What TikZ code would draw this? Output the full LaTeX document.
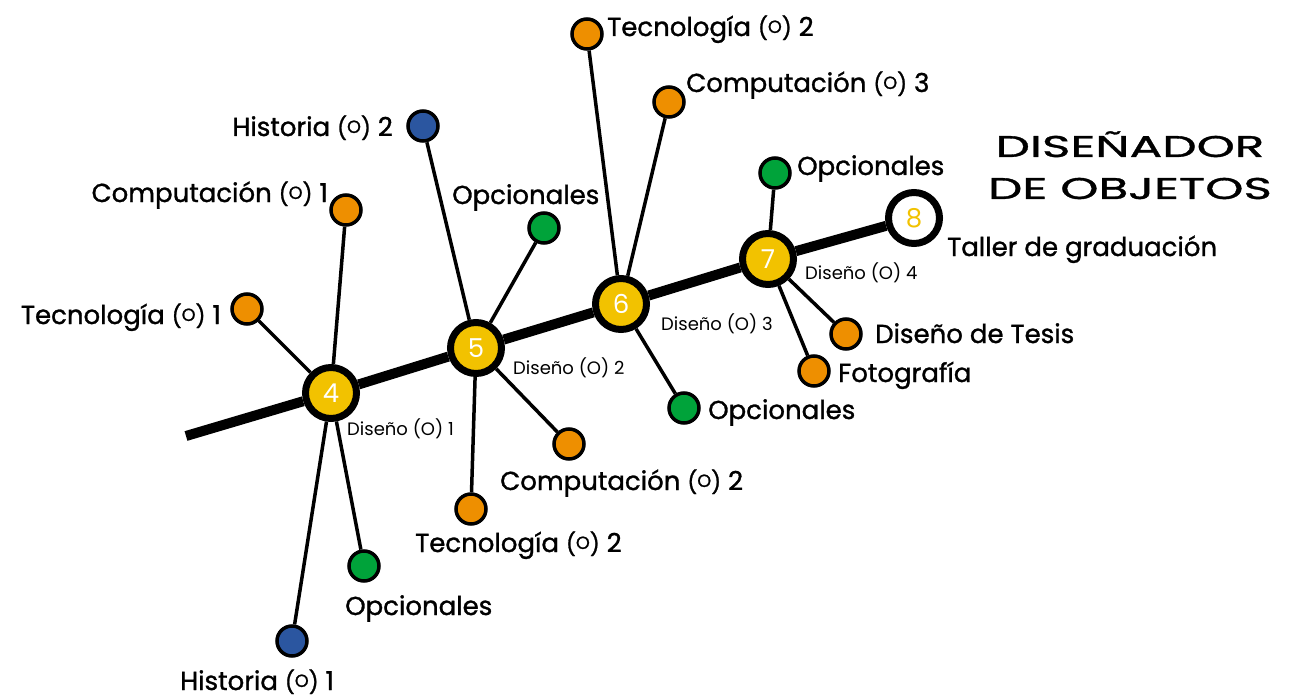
\documentclass[tikz,border=0pt]{standalone}
\usepackage{fontspec}
\setmainfont{Poppins}
\newfontfamily\gruesa[FakeBold=1.2]{Poppins}
\newfontfamily\titlefont[FakeStretch=1.62, FakeBold=1.1]{Poppins}
\usepackage{graphicx}

\definecolor{amarillo}{HTML}{F2C200}
\definecolor{naranja}{HTML}{EE8F00}
\definecolor{verde}{HTML}{00A33A}
\definecolor{azul}{HTML}{2B56A0}

\tikzstyle{semestre} = [circle, draw=black, line width=7pt, fill=amarillo, minimum size=51pt, inner sep=0pt, text=white, font=\fontsize{26}{26}\selectfont]
\tikzstyle{materia} = [circle, draw=black, line width=3.5pt, minimum size=30pt, inner sep=0pt]
\tikzstyle{etiq} = [inner sep=0pt, font=\gruesa\fontsize{26}{26}\selectfont]
\tikzstyle{etiqchica} = [inner sep=0pt, font=\fontsize{18}{18}\selectfont]
\tikzstyle{espina} = [line width=10pt]
\tikzstyle{rama} = [line width=3.5pt]

% optativa: (O) con la O chica y subida
\newcommand{\opc}{{\fontsize{22}{22}\selectfont(\raisebox{0.14em}{\scalebox{0.8}{O}})}}

\begin{document}
\begin{tikzpicture}[x=1pt, y=-1pt]
      \useasboundingbox (0,0) rectangle (1291,698);
      % semestres
      \node[semestre] (s4) at (331,393) {4};
      \node[semestre] (s5) at (476,348) {5};
      \node[semestre] (s6) at (621,304) {6};
      \node[semestre] (s7) at (768,259) {7};
      \node[semestre, fill=white, text=amarillo] (s8) at (914,218) {8};
      \coordinate (inicio) at (186,436);
      % materias
      \node[materia, fill=naranja] (comp1) at (346,210) {};
      \node[materia, fill=naranja] (tec1) at (247,309) {};
      \node[materia, fill=azul] (hist1) at (292,641) {};
      \node[materia, fill=verde] (opc1) at (364,566) {};
      \node[materia, fill=azul] (hist2) at (423,126) {};
      \node[materia, fill=verde] (opc2) at (544,228) {};
      \node[materia, fill=naranja] (comp2) at (569,444) {};
      \node[materia, fill=naranja] (tec2b) at (471,509) {};
      \node[materia, fill=naranja] (tec2) at (587,34) {};
      \node[materia, fill=naranja] (comp3) at (669,102) {};
      \node[materia, fill=verde] (opc3) at (684,408) {};
      \node[materia, fill=verde] (opc4) at (775,173) {};
      \node[materia, fill=naranja] (tesis) at (846,334) {};
      \node[materia, fill=naranja] (foto) at (814,371) {};
      \draw[espina] (inicio) -- (s4) -- (s5) -- (s6) -- (s7) -- (s8);
      \draw[rama] (s4) -- (comp1);
      \draw[rama] (s4) -- (tec1);
      \draw[rama] (s4) -- (hist1);
      \draw[rama] (s4) -- (opc1);
      \draw[rama] (s5) -- (hist2);
      \draw[rama] (s5) -- (opc2);
      \draw[rama] (s5) -- (comp2);
      \draw[rama] (s5) -- (tec2b);
      \draw[rama] (s6) -- (tec2);
      \draw[rama] (s6) -- (comp3);
      \draw[rama] (s6) -- (opc3);
      \draw[rama] (s7) -- (opc4);
      \draw[rama] (s7) -- (tesis);
      \draw[rama] (s7) -- (foto);
      % etiquetas
      \node[etiq, anchor=base east] (lcomp1) at (328,202) {Computación \opc{} 1};
      \node[etiq, anchor=base east] (ltec1) at (221,324) {Tecnología \opc{} 1};
      \node[etiq, anchor=base west] (lhist1) at (180,690) {Historia \opc{} 1};
      \node[etiq, anchor=base west] (lopc1) at (345,615) {Opcionales};
      \node[etiq, anchor=base east] (lhist2) at (393,136) {Historia \opc{} 2};
      \node[etiq, anchor=base west] (lopc2) at (452,204) {Opcionales};
      \node[etiq, anchor=base west] (lcomp2) at (500,490) {Computación \opc{} 2};
      \node[etiq, anchor=base west] (ltec2b) at (415,552) {Tecnología \opc{} 2};
      \node[etiq, anchor=base west] (ltec2) at (607,36) {Tecnología \opc{} 2};
      \node[etiq, anchor=base west] (lcomp3) at (686,92) {Computación \opc{} 3};
      \node[etiq, anchor=base west] (lopc3) at (708,419) {Opcionales};
      \node[etiq, anchor=base west] (lopc4) at (797,175) {Opcionales};
      \node[etiq, anchor=base west] (ltesis) at (875,343) {Diseño de Tesis};
      \node[etiq, anchor=base west] (lfoto) at (838,382) {Fotografía};
      \node[etiq, anchor=base west] (ltaller) at (947,256) {Taller de graduación};
      \node[etiqchica, anchor=base west] (ld1) at (347,435) {Diseño (O) 1};
      \node[etiqchica, anchor=base west] (ld2) at (513,374) {Diseño (O) 2};
      \node[etiqchica, anchor=base west] (ld3) at (661,330) {Diseño (O) 3};
      \node[etiqchica, anchor=base west] (ld4) at (805,279) {Diseño (O) 4};
      % titulo
      \node[inner sep=0pt, anchor=base, font=\titlefont\fontsize{30}{30}\selectfont] (tit1) at (1130,157) {DISEÑADOR};
      \node[inner sep=0pt, anchor=base, font=\titlefont\fontsize{30}{30}\selectfont] (tit2) at (1130,199) {DE OBJETOS};
\end{tikzpicture}
\end{document}
